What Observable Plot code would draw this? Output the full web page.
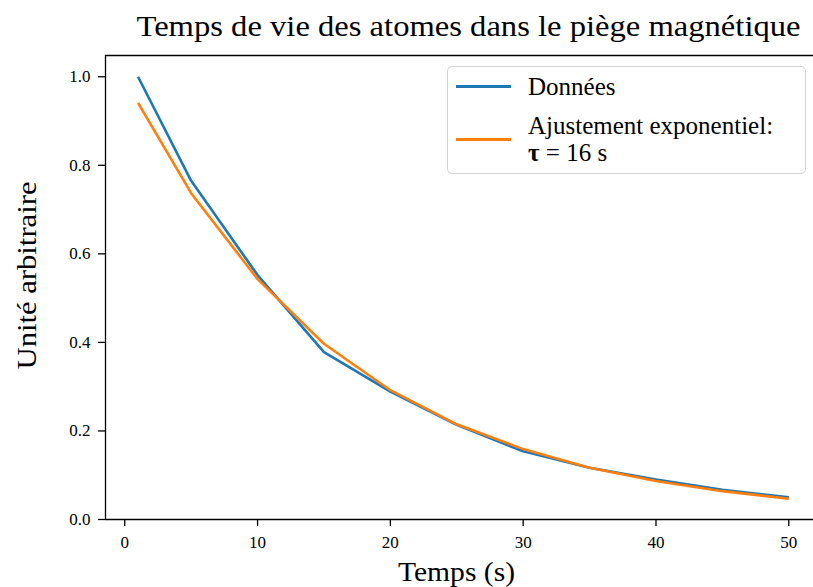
<!DOCTYPE html>
<html>
<head>
<meta charset="utf-8">
<script src="https://cdn.jsdelivr.net/npm/d3@7"></script>
<script src="https://cdn.jsdelivr.net/npm/@observablehq/plot@0.6"></script>
<style>
  html, body { margin: 0; padding: 0; background: #fff; }
  #wrap { position: relative; width: 813px; height: 587px; font-family: "Liberation Serif", "DejaVu Serif", serif; }
  #legend { position: absolute; left: 447px; top: 66px; width: 359px; height: 108px;
    border: 1.5px solid #d4d4d4; border-radius: 5px; background: rgba(255,255,255,0.85); box-sizing: border-box; }
  .sw { position: absolute; left: 8px; width: 55px; height: 3px; }
  .lt { position: absolute; left: 80px; font-size: 25px; line-height: 26px; color: #000; white-space: nowrap; }
</style>
</head>
<body>
<div id="wrap"></div>
<script>
const title = "Temps de vie des atomes dans le piège magnétique";
const xLabel = "Temps (s)";
const yLabel = "Unité arbitraire";
const times = [1, 5, 10, 15, 20, 25, 30, 35, 40, 45, 50];
const dataValues = [1.000, 0.765, 0.552, 0.378, 0.289, 0.214, 0.154, 0.117, 0.090, 0.067, 0.050];
const fitValues  = [0.941, 0.737, 0.543, 0.397, 0.292, 0.215, 0.159, 0.117, 0.087, 0.064, 0.047];
const xTicks = [0, 10, 20, 30, 40, 50];
const yTicks = [0.0, 0.2, 0.4, 0.6, 0.8, 1.0];
const seriesNames = ["Données", "Ajustement exponentiel:"];
const seriesColors = ["#1f77b4", "#ff7f0e"];
const xDomain = [-1.45, 51.86];
const yDomain = [0, 1.048];

const rows = [];
times.forEach((t, i) => rows.push({t, v: dataValues[i], s: seriesNames[0]}));
times.forEach((t, i) => rows.push({t, v: fitValues[i], s: seriesNames[1]}));

const chart = Plot.plot({
  width: 813, height: 587,
  marginLeft: 105, marginRight: 0, marginTop: 55, marginBottom: 68,
  style: { fontFamily: "'Liberation Serif', serif", background: "white", color: "black" },
  x: { domain: xDomain },
  y: { domain: yDomain },
  color: { domain: seriesNames, range: seriesColors },
  marks: [
    Plot.axisX({ ticks: xTicks, tickSize: 7, tickPadding: 9, fontSize: 17, label: null, stroke: "black", strokeWidth: 1.3 }),
    Plot.axisY({ ticks: yTicks, tickFormat: d3.format(".1f"), tickSize: 7, tickPadding: 8, fontSize: 17, label: null, stroke: "black", strokeWidth: 1.3 }),
    Plot.line(rows, { x: "t", y: "v", z: "s", stroke: "s", strokeWidth: 2.6, strokeLinejoin: "miter", strokeLinecap: "butt" }),
    Plot.ruleY([yDomain[0]], { stroke: "black", strokeWidth: 1.3 }),
    Plot.ruleY([yDomain[1]], { stroke: "black", strokeWidth: 1.3 }),
    Plot.ruleX([xDomain[0]], { stroke: "black", strokeWidth: 1.3 }),
    Plot.text([title], { frameAnchor: "top", lineAnchor: "middle", dy: -29, dx: 9, fontSize: 29, fill: "black" }),
    Plot.text([xLabel], { frameAnchor: "bottom", lineAnchor: "middle", dy: 53, dx: -3, fontSize: 27, fill: "black" }),
    Plot.text([yLabel], { frameAnchor: "left", textAnchor: "middle", lineAnchor: "middle", rotate: -90, dx: -78, dy: -12, fontSize: 27, fill: "black" })
  ]
});

document.getElementById("wrap").appendChild(chart);

// match text widths of the reference's Computer Modern typesetting
const widths = new Map([[title, 664], [xLabel, 117], [yLabel, 188]]);
chart.querySelectorAll("text").forEach(t => {
  const w = widths.get(t.textContent);
  if (w) { t.setAttribute("textLength", w); t.setAttribute("lengthAdjust", "spacingAndGlyphs"); }
});

// legend
const legend = document.createElement("div");
legend.id = "legend";
legend.innerHTML =
  `<div class="sw" style="top:18px;background:${seriesColors[0]}"></div>` +
  `<div class="lt" style="top:7px">${seriesNames[0]}</div>` +
  `<div class="sw" style="top:71px;background:${seriesColors[1]}"></div>` +
  `<div class="lt" style="top:46px">${seriesNames[1]}</div>` +
  `<div class="lt" style="top:73px"><b>τ</b> = 16 s</div>`;
document.getElementById("wrap").appendChild(legend);
</script>
</body>
</html>
